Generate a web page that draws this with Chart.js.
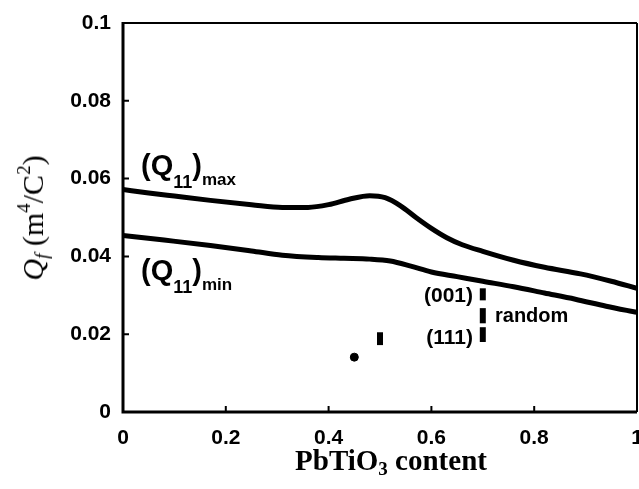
<!DOCTYPE html>
<html>
<head>
<meta charset="utf-8">
<script src="https://cdn.jsdelivr.net/npm/chart.js@4/dist/chart.umd.min.js"></script>
<style>
  html, body { margin: 0; padding: 0; background: #fff; }
  #wrap { position: relative; width: 639px; height: 489px; }
  #c { position: absolute; left: 0; top: 0; }
  .lbl { position: absolute; color: #000; white-space: nowrap; line-height: 1; }
  .sans { font-family: "Liberation Sans", Arial, sans-serif; font-weight: bold; }
  .serif { font-family: "Liberation Serif", "Times New Roman", serif; }
  sub, sup { line-height: 0; }
</style>
</head>
<body>
<div id="wrap">
  <canvas id="c" width="639" height="489"></canvas>
  <div class="lbl sans" style="left:141px;top:151px;font-size:29px;">(Q<sub style="font-size:18px;vertical-align:-13px;">11</sub>)<sub style="font-size:17px;vertical-align:-10px;">max</sub></div>
  <div class="lbl sans" style="left:141px;top:256px;font-size:29px;">(Q<sub style="font-size:18px;vertical-align:-13px;">11</sub>)<sub style="font-size:17px;vertical-align:-10px;">min</sub></div>
  <div class="lbl sans" style="left:473px;top:284px;font-size:21px;transform:translateX(-100%);">(001)</div>
  <div class="lbl sans" style="left:495px;top:305px;font-size:20px;">random</div>
  <div class="lbl sans" style="left:473px;top:326px;font-size:21px;transform:translateX(-100%);">(111)</div>
  <div class="lbl serif" style="left:391px;top:446px;font-size:29px;font-weight:bold;transform:translateX(-50%);">PbTiO<sub style="font-size:19px;vertical-align:-5px;">3</sub> content</div>
  <div class="lbl serif" style="left:33px;top:218px;font-size:30px;transform:translate(-50%,-50%) rotate(-90deg);"><i>Q<sub style="font-size:19px;vertical-align:-5px;">f</sub></i> (m<sup style="font-size:19px;vertical-align:13px;">4</sup>/C<sup style="font-size:19px;vertical-align:13px;">2</sup>)</div>
</div>
<script>
// PbTiO3 content (x) vs Qf (y)
const qMaxX = [0, 0.05, 0.1, 0.17, 0.25, 0.31, 0.36, 0.40, 0.44, 0.48, 0.51, 0.54, 0.57, 0.60, 0.63, 0.66, 0.70, 0.76, 0.82, 0.89, 0.95, 1.0];
const qMaxY = [0.0572, 0.0563, 0.0555, 0.0544, 0.0533, 0.0526, 0.0526, 0.0533, 0.0547, 0.0556, 0.0551, 0.0530, 0.0500, 0.0472, 0.0448, 0.0430, 0.0413, 0.0390, 0.0372, 0.0355, 0.0336, 0.0318];

const qMinX = [0, 0.08, 0.17, 0.25, 0.31, 0.38, 0.43, 0.48, 0.52, 0.56, 0.60, 0.65, 0.70, 0.76, 0.82, 0.88, 0.94, 1.0];
const qMinY = [0.0454, 0.0442, 0.0428, 0.0414, 0.0403, 0.0397, 0.0395, 0.0393, 0.0388, 0.0375, 0.0360, 0.0348, 0.0336, 0.0322, 0.0306, 0.0290, 0.0272, 0.0256];

// measured films: [x, low, high]
const filmBars = [
  [0.50, 0.0172, 0.0205],
  [0.70, 0.0287, 0.0318],
  [0.70, 0.0228, 0.0267],
  [0.70, 0.0180, 0.0218]
];
const filmDotX = [0.45];
const filmDotY = [0.0141];

const xTicks = [0, 0.2, 0.4, 0.6, 0.8, 1];
const yTicks = [0, 0.02, 0.04, 0.06, 0.08, 0.1];

const toPts = (xs, ys) => xs.map((x, i) => ({ x: x, y: ys[i] }));

const frame = {
  id: "frame",
  afterDraw(chart) {
    const { ctx, chartArea: a, scales } = chart;
    ctx.save();
    ctx.strokeStyle = "#000";
    ctx.lineWidth = 2;
    ctx.beginPath();
    ctx.moveTo(a.left, a.top); ctx.lineTo(a.right, a.top);
    ctx.moveTo(a.right, a.top); ctx.lineTo(a.right, a.bottom);
    ctx.stroke();
    ctx.lineWidth = 3;
    ctx.beginPath();
    ctx.moveTo(a.left, a.top - 1); ctx.lineTo(a.left, a.bottom);
    ctx.lineTo(a.right, a.bottom);
    ctx.stroke();
    // inward ticks
    ctx.lineWidth = 2;
    ctx.beginPath();
    yTicks.forEach(v => {
      const y = scales.y.getPixelForValue(v);
      ctx.moveTo(a.left, y); ctx.lineTo(a.left + 6, y);
    });
    xTicks.forEach(v => {
      const x = scales.x.getPixelForValue(v);
      ctx.moveTo(x, a.bottom); ctx.lineTo(x, a.bottom - 6);
    });
    ctx.stroke();
    ctx.restore();
  }
};

const datasets = [
  {
    data: toPts(qMaxX, qMaxY), showLine: true, borderColor: "#000", borderWidth: 5,
    pointRadius: 0, cubicInterpolationMode: "monotone", fill: false
  },
  {
    data: toPts(qMinX, qMinY), showLine: true, borderColor: "#000", borderWidth: 5,
    pointRadius: 0, cubicInterpolationMode: "monotone", fill: false
  },
  {
    data: toPts(filmDotX, filmDotY), showLine: false, pointRadius: 4,
    pointStyle: "circle", backgroundColor: "#000", borderColor: "#000"
  }
];
filmBars.forEach(b => {
  datasets.push({
    data: [{ x: b[0], y: b[1] }, { x: b[0], y: b[2] }], showLine: true,
    borderColor: "#000", borderWidth: 6, borderCapStyle: "butt", pointRadius: 0
  });
});

new Chart(document.getElementById("c"), {
  type: "scatter",
  data: { datasets },
  options: {
    responsive: false,
    animation: false,
    layout: { padding: { top: 23, right: 2, left: 0, bottom: 0 } },
    plugins: { legend: { display: false }, tooltip: { enabled: false } },
    scales: {
      x: {
        type: "linear", min: 0, max: 1,
        afterBuildTicks: s => { s.ticks = xTicks.map(v => ({ value: v })); },
        afterFit: s => { s.height = 77; s.paddingLeft = 0; s.paddingRight = 0; },
        grid: { display: false, drawTicks: false },
        border: { display: false },
        ticks: {
          color: "#000", padding: 14, maxRotation: 0,
          font: { family: "Liberation Sans", weight: "bold", size: 21 },
          callback: v => String(v)
        }
      },
      y: {
        type: "linear", min: 0, max: 0.1,
        afterBuildTicks: s => { s.ticks = yTicks.map(v => ({ value: v })); },
        afterFit: s => { s.width = 123; s.paddingTop = 0; s.paddingBottom = 0; },
        grid: { display: false, drawTicks: false },
        border: { display: false },
        ticks: {
          color: "#000", padding: 12,
          font: { family: "Liberation Sans", weight: "bold", size: 21 },
          callback: v => String(v)
        }
      }
    }
  },
  plugins: [frame, {
    id: "fixArea",
    afterLayout(chart) {
      // keep the frame where the original plot box sits
      const a = chart.chartArea;
      if (a.right < 637) {
        const sx = chart.scales.x;
        sx.right = 637; sx.width = sx.right - sx.left;
        a.right = 637; a.width = a.right - a.left;
        sx.configure();
      }
    }
  }]
});
</script>
</body>
</html>
